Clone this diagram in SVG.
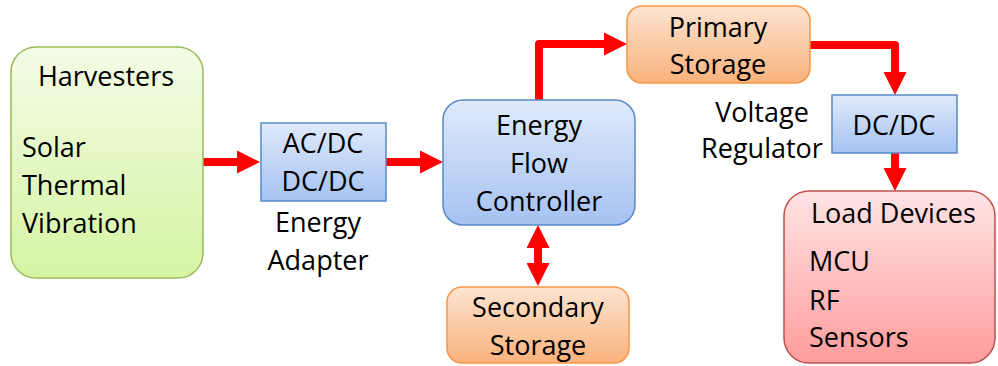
<svg xmlns="http://www.w3.org/2000/svg" width="998" height="366" viewBox="0 0 998 366">
<defs>
<linearGradient id="gGreen" x1="0" y1="0" x2="0" y2="1"><stop offset="0" stop-color="#f3fce6"/><stop offset="1" stop-color="#d5f4a2"/></linearGradient>
<linearGradient id="gBlue" x1="0" y1="0" x2="0" y2="1"><stop offset="0" stop-color="#e0eafb"/><stop offset="1" stop-color="#a4c2f1"/></linearGradient>
<linearGradient id="gOrange" x1="0" y1="0" x2="0" y2="1"><stop offset="0" stop-color="#fde4d1"/><stop offset="1" stop-color="#f9b27c"/></linearGradient>
<linearGradient id="gRed" x1="0" y1="0" x2="0" y2="1"><stop offset="0" stop-color="#ffe4e4"/><stop offset="1" stop-color="#ff9c9c"/></linearGradient>
<marker id="head" markerUnits="userSpaceOnUse" markerWidth="23" markerHeight="23" refX="0" refY="11.5" orient="auto-start-reverse" viewBox="0 0 23 23">
<path d="M0,0 L23,11.5 L0,23 z" fill="#ff0000"/>
</marker>
</defs>
<style>
text{font-family:"Open Sans","Liberation Sans",sans-serif;font-size:27px;fill:#000}
.c{text-anchor:middle}
.green{fill:url(#gGreen);stroke:#9bbb59;stroke-width:1.5}
.blue{fill:url(#gBlue);stroke:#5a8ac6;stroke-width:1.5}
.orange{fill:url(#gOrange);stroke:#f79646;stroke-width:1.5}
.red{fill:url(#gRed);stroke:#c0504d;stroke-width:1.5}
.arr{fill:none;stroke:#ff0000;stroke-width:8;stroke-linejoin:round;marker-end:url(#head)}
</style>
<rect width="998" height="366" fill="#ffffff"/>
<g id="connectors">
<path class="arr" d="M203,162 H237"/>
<path class="arr" d="M386,162 H420"/>
<path class="arr" d="M539,100 V44 H604"/>
<path class="arr" d="M810,45 H895 V72"/>
<path class="arr" d="M895,153 V168"/>
<path class="arr" d="M538,248 V263" style="marker-start:url(#head)"/>
</g>
<g id="harvesters">
<rect class="green" x="11" y="47" width="192" height="231" rx="25"/>
<text class="c" x="106" y="86">Harvesters</text>
<text x="22" y="157">Solar</text>
<text x="22" y="195">Thermal</text>
<text x="22" y="233">Vibration</text>
</g>
<g id="energy-adapter">
<rect class="blue" x="261" y="123" width="125" height="78"/>
<text class="c" x="323" y="153">AC/DC</text>
<text class="c" x="323" y="191">DC/DC</text>
<text class="c" x="318" y="232">Energy</text>
<text class="c" x="318" y="270">Adapter</text>
</g>
<g id="energy-flow-controller">
<rect class="blue" x="443" y="100" width="192" height="125" rx="20"/>
<text class="c" x="539" y="135">Energy</text>
<text class="c" x="539" y="173">Flow</text>
<text class="c" x="539" y="211">Controller</text>
</g>
<g id="primary-storage">
<rect class="orange" x="627" y="6" width="183" height="77" rx="15"/>
<text class="c" x="718" y="37">Primary</text>
<text class="c" x="718" y="74">Storage</text>
</g>
<g id="voltage-regulator">
<rect class="blue" x="832" y="95" width="125" height="58"/>
<text class="c" x="894" y="135">DC/DC</text>
<text class="c" x="762" y="122">Voltage</text>
<text class="c" x="762" y="158">Regulator</text>
</g>
<g id="secondary-storage">
<rect class="orange" x="447" y="287" width="182" height="76" rx="15"/>
<text class="c" x="538" y="317">Secondary</text>
<text class="c" x="538" y="355">Storage</text>
</g>
<g id="load-devices">
<rect class="red" x="784" y="191" width="211" height="172" rx="25"/>
<text x="811" y="223">Load Devices</text>
<text x="809" y="271">MCU</text>
<text x="809" y="310">RF</text>
<text x="809" y="347">Sensors</text>
</g>
</svg>
